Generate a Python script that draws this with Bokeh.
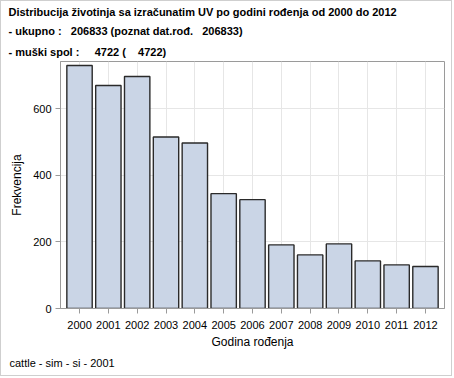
from bokeh.plotting import figure
from bokeh.models import Title, Range1d, FixedTicker
from bokeh.embed import file_html
from bokeh.resources import INLINE

years = [2000, 2001, 2002, 2003, 2004, 2005, 2006, 2007, 2008, 2009, 2010, 2011, 2012]
counts = [730, 670, 697, 515, 497, 345, 327, 191, 161, 194, 143, 131, 126]
year_labels = [str(y) for y in years]
y_ticks = [0, 200, 400, 600]

NB = "\u00a0"
title_lines = [
    "Distribucija životinja sa izračunatim UV po godini rođenja od 2000 do 2012",
    "- ukupno :   206833 (poznat dat.rođ.   206833)".replace(" ", NB),
    "- muški spol :     4722 (    4722)".replace(" ", NB),
]
footnote = "cattle - sim - si - 2001"

FONT = "Liberation Sans"
GRID = "#e6e6e6"
FRAME = "#9a9a9a"

p = figure(width=452, height=376, output_backend="svg", toolbar_location=None,
           x_range=Range1d(1999.34, 2012.66), y_range=Range1d(0, 742),
           min_border_left=59, min_border_right=9, min_border_top=4, min_border_bottom=4)
p.styles = {"border": "1px solid #cfcfcf"}

p.vbar(x=years, top=counts, width=0.88, bottom=0,
       fill_color="#cad5e6", line_color="#2a2a2a", line_width=1.4)

for i, t in enumerate(reversed(title_lines)):
    p.add_layout(Title(text=t, text_font=FONT, text_font_size="11px", text_font_style="bold",
                       text_color="black", align="left", offset=-52,
                       standoff=8 if i == 0 else 5), "above")
p.add_layout(Title(text=footnote, text_font=FONT, text_font_size="11px", text_font_style="normal",
                   text_color="black", align="left", offset=-51, standoff=7), "below")
# bottom padding below the footnote
p.add_layout(Title(text=NB, text_font=FONT, text_font_size="1px", text_color="white",
                   align="left", standoff=2), "below")

p.xaxis.ticker = FixedTicker(ticks=years)
p.xaxis.major_label_overrides = {y: s for y, s in zip(years, year_labels)}
p.yaxis.ticker = FixedTicker(ticks=y_ticks)
p.xaxis.axis_label = "Godina rođenja"
p.yaxis.axis_label = "Frekvencija"

for ax in (p.xaxis, p.yaxis):
    ax.axis_label_text_font = FONT
    ax.axis_label_text_font_size = "12px"
    ax.axis_label_text_font_style = "normal"
    ax.axis_label_text_color = "black"
    ax.major_label_text_font = FONT
    ax.major_label_text_font_size = "11px"
    ax.major_label_text_color = "black"
    ax.axis_line_color = FRAME
    ax.major_tick_line_color = FRAME
    ax.major_tick_out = 5
    ax.major_tick_in = 0
    ax.minor_tick_line_color = None
    ax.axis_label_standoff = 6

p.xaxis.major_label_standoff = 7
p.xaxis.axis_label_standoff = 3
p.yaxis.major_label_standoff = 4

p.xgrid.ticker = FixedTicker(ticks=years)
p.xgrid.grid_line_color = GRID
p.ygrid.grid_line_color = GRID
p.outline_line_color = FRAME
p.outline_line_width = 1
p.background_fill_color = "white"
p.border_fill_color = "white"

open("out.html", "w").write(file_html(p, INLINE))
